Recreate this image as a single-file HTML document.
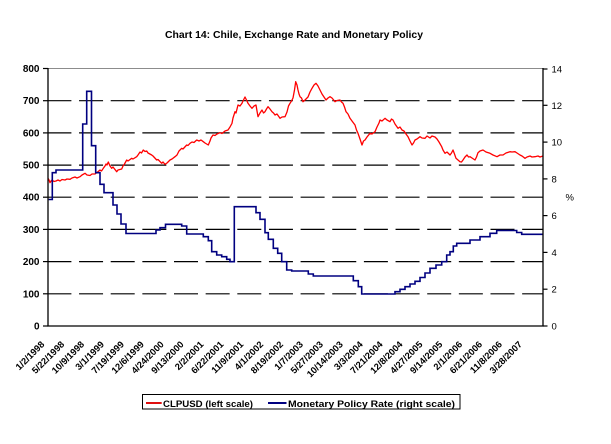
<!DOCTYPE html>
<html>
<head>
<meta charset="utf-8">
<style>
  html, body { margin:0; padding:0; background:#ffffff; }
  body { width:611px; height:444px; overflow:hidden; }
  svg { display:block; }
  text { font-family: "Liberation Sans", Arial, sans-serif; fill:#000; }
</style>
</head>
<body>
<svg width="611" height="444" viewBox="0 0 611 444" xmlns="http://www.w3.org/2000/svg">
  <rect x="0" y="0" width="611" height="444" fill="#ffffff"/>

  <!-- Title -->
  <text x="165" y="38" font-size="10" font-weight="bold" textLength="258" lengthAdjust="spacingAndGlyphs">Chart 14: Chile, Exchange Rate and Monetary Policy</text>

  <!-- top border -->
  <line x1="48" y1="68.5" x2="543" y2="68.5" stroke="#8c8c8c" stroke-width="1"/>

  <!-- dashed gridlines -->
  <g stroke="#000" stroke-width="1.2" stroke-dasharray="24 7.65" stroke-dashoffset="0.6">
    <line x1="48" y1="100.7" x2="543" y2="100.7"/>
    <line x1="48" y1="132.9" x2="543" y2="132.9"/>
    <line x1="48" y1="165.1" x2="543" y2="165.1"/>
    <line x1="48" y1="197.2" x2="543" y2="197.2"/>
    <line x1="48" y1="229.4" x2="543" y2="229.4"/>
    <line x1="48" y1="261.6" x2="543" y2="261.6"/>
    <line x1="48" y1="293.8" x2="543" y2="293.8"/>
  </g>

  <!-- Series: CLPUSD (red) -->
  <polyline fill="none" stroke="#ff0000" stroke-width="1.3" stroke-linejoin="round" points="
    48,178.3 49,180 50,182.7 51,181 52,180 54,181.5 56,181 58,180 60,181 62,179.5 65,180 67,179 70,179.3 72,178 75,177 77,178 80,176.7 82,175 85,173.3 87,175 90,175.5 92,174 95,174 97,172.5 100,170 101.5,171 103.3,168.3 105,166 106,164 107,165 108.3,162 110,166 111.7,168.3 113,167 116.7,171.7 118,170 121.7,169 123,166 124.5,164 126.7,160 128,161 131.7,158.3 133,159 136.7,156.7 138,155 140,152 141.5,153 143.3,150 145,151.5 146.7,151 148,153 151.7,155 153,156 156.7,160 158,159.5 161.7,163.3 163,162 165,164.3 167,163 170,160 172,159 175,156.7 177,155 179,151 181.7,148.3 183,149 186.7,145 188,145.5 190,143.3 192,142 194,142.5 196.7,140 199,141 201,140 203.3,141.7 205,143 208.3,145 210,141 211,138 213,135 215,135.5 217,134 220,132.7 222,133.5 225,131 228,130 230,127 232,123.3 233,118 235,111.7 236,113 238,105 240,106 242,103.3 243,101 245,97 246.5,100 248,103.3 250,106 252,108.3 254,106 256,105 257,111 258,116.7 260,113 262,110 263.5,113 265,111.7 266.5,109 268,106.7 270,109 272,111.7 273.5,113 275,115 277,114 280,118.3 282,117 285,116.7 287,112 288.5,106 290,103.3 291.5,101 293,98 294.5,90 295.7,81.7 297,85 298,90 299,94 300,96.7 301.5,98 303,101.7 305,100 308,97 310,92 312,88.3 314,85 316,83.3 318,86 320,90 322,94 324,97 326,100 328,98 330,96.7 332,98 335,101.7 337,100.5 340,100 341.5,102 343,103.3 344.5,107 346,111.7 348,114 350,118.3 352,121 355,125 356.5,130 358,133.3 360,139 362,145 363.5,141 365,140 367,137 370,133.3 372,134 375,131.7 377,127 379,123 380,120 382,121 385,118.3 387,120 390,121.7 391.5,119 393,120 395,124 398,128.3 400,127 402,130 404,131 406,134 408,136.7 410,141 412,145 413.5,143 415,140 417,139 420,136.7 422,138 425,138.3 427,136 430,138 432,136 435,137 437,139 439,142 441.7,146.7 443,150 445,153.3 447,152 450,155 451.5,153 453,150 454.5,154 456,158.3 458,160 460,161.7 461.5,162 463,160 465,157 467,155 468.5,157 470,156.7 472,158 475,160 476.5,157 478,152.7 480,151 483,150 486,152 490,153.3 493,155 497,156.7 500,155 503,155 506,153 510,151.7 512,152 515,151.7 517,153 520,155 522,156 525,158.3 527,157 530,156 532,157 535,156.7 538,156 540,157 543,156"/>

  <!-- Series: Monetary Policy Rate (navy) -->
  <polyline fill="none" stroke="#000080" stroke-width="1.6" stroke-linejoin="miter" points="
    48.6,199.5 52.3,199.5 52.3,172.7 56,172.7 56,170 82.7,170 82.7,124 86.7,124 86.7,91.3 91.5,91.3 91.5,145.7 95.7,145.7 95.7,172.7 100,172.7 100,184.3 104,184.3 104,192.7 113,192.7 113,205 117,205 117,214 121,214 121,224 126,224 126,233.5 156,233.5 156,230 160,230 160,227.7 165.5,227.7 165.5,224.3 181.7,224.3 181.7,226 186.7,226 186.7,234 203.3,234 203.3,236.7 208.3,236.7 208.3,240.7 211.7,240.7 211.7,251.7 216.7,251.7 216.7,255 221.7,255 221.7,256.7 226.7,256.7 226.7,259.3 230,259.3 230,261.7 234.3,261.7 234.3,206.7 256,206.7 256,212.7 260,212.7 260,219.3 265,219.3 265,232.7 268.3,232.7 268.3,239.3 273.3,239.3 273.3,248.3 277.7,248.3 277.7,253.3 281.7,253.3 281.7,261.7 286.7,261.7 286.7,270 291.7,270 291.7,271 308.3,271 308.3,274 313.3,274 313.3,276 353.3,276 353.3,280.7 358.3,280.7 358.3,286.7 361.7,286.7 361.7,294 395,294 395,291.7 400,291.7 400,289.3 405,289.3 405,286.7 410,286.7 410,284 415,284 415,281.3 420,281.3 420,277.5 425,277.5 425,273 430,273 430,268.3 436,268.3 436,265 441.7,265 441.7,261.7 446.7,261.7 446.7,255 450,255 450,251.7 453.3,251.7 453.3,246 456.7,246 456.7,243.3 470,243.3 470,240 480,240 480,236.7 490,236.7 490,233.3 496.7,233.3 496.7,230.5 516.7,230.5 516.7,232.5 521.7,232.5 521.7,234.3 543,234.3"/>

  <!-- Axes -->
  <g stroke="#000" stroke-width="1.3">
    <line x1="48" y1="68" x2="48" y2="326.5"/>
    <line x1="543" y1="68" x2="543" y2="326.5"/>
    <line x1="47.4" y1="326" x2="543.6" y2="326"/>
  </g>
  <!-- Left ticks -->
  <g stroke="#000" stroke-width="1.2">
    <line x1="43" y1="68.5" x2="48" y2="68.5"/>
    <line x1="43" y1="100.7" x2="48" y2="100.7"/>
    <line x1="43" y1="132.9" x2="48" y2="132.9"/>
    <line x1="43" y1="165.1" x2="48" y2="165.1"/>
    <line x1="43" y1="197.2" x2="48" y2="197.2"/>
    <line x1="43" y1="229.4" x2="48" y2="229.4"/>
    <line x1="43" y1="261.6" x2="48" y2="261.6"/>
    <line x1="43" y1="293.8" x2="48" y2="293.8"/>
    <line x1="43" y1="326" x2="48" y2="326"/>
    <!-- Right ticks -->
    <line x1="543" y1="69" x2="547.5" y2="69"/>
    <line x1="543" y1="105.3" x2="547.5" y2="105.3"/>
    <line x1="543" y1="142.1" x2="547.5" y2="142.1"/>
    <line x1="543" y1="178.9" x2="547.5" y2="178.9"/>
    <line x1="543" y1="215.6" x2="547.5" y2="215.6"/>
    <line x1="543" y1="252.4" x2="547.5" y2="252.4"/>
    <line x1="543" y1="289.2" x2="547.5" y2="289.2"/>
    <line x1="543" y1="326" x2="547.5" y2="326"/>
  </g>

  <!-- Left labels -->
  <g font-size="10" font-weight="bold" text-anchor="end">
    <text x="39.5" y="72">800</text>
    <text x="39.5" y="104.2">700</text>
    <text x="39.5" y="136.4">600</text>
    <text x="39.5" y="168.6">500</text>
    <text x="39.5" y="200.7">400</text>
    <text x="39.5" y="232.9">300</text>
    <text x="39.5" y="265.1">200</text>
    <text x="39.5" y="297.3">100</text>
    <text x="39.5" y="329.5">0</text>
  </g>

  <!-- Right labels -->
  <g font-size="9.5">
    <text x="551.5" y="72.5">14</text>
    <text x="551.5" y="108.8">12</text>
    <text x="551.5" y="145.6">10</text>
    <text x="551.5" y="182.4">8</text>
    <text x="551.5" y="219.1">6</text>
    <text x="551.5" y="255.9">4</text>
    <text x="551.5" y="292.7">2</text>
    <text x="551.5" y="329.5">0</text>
  </g>
  <text x="565.5" y="200.5" font-size="9.5">%</text>

  <!-- X labels -->
  <g font-size="9.3" font-weight="bold" text-anchor="end">
    <text transform="translate(45,345) rotate(-45)">1/2/1998</text>
    <text transform="translate(64.9,345) rotate(-45)">5/22/1998</text>
    <text transform="translate(84.8,345) rotate(-45)">10/9/1998</text>
    <text transform="translate(104.7,345) rotate(-45)">3/1/1999</text>
    <text transform="translate(124.6,345) rotate(-45)">7/19/1999</text>
    <text transform="translate(144.5,345) rotate(-45)">12/6/1999</text>
    <text transform="translate(164.4,345) rotate(-45)">4/24/2000</text>
    <text transform="translate(184.3,345) rotate(-45)">9/13/2000</text>
    <text transform="translate(204.2,345) rotate(-45)">2/2/2001</text>
    <text transform="translate(224.1,345) rotate(-45)">6/22/2001</text>
    <text transform="translate(244,345) rotate(-45)">11/9/2001</text>
    <text transform="translate(263.9,345) rotate(-45)">4/1/2002</text>
    <text transform="translate(283.8,345) rotate(-45)">8/19/2002</text>
    <text transform="translate(303.7,345) rotate(-45)">1/7/2003</text>
    <text transform="translate(323.6,345) rotate(-45)">5/27/2003</text>
    <text transform="translate(343.5,345) rotate(-45)">10/14/2003</text>
    <text transform="translate(363.4,345) rotate(-45)">3/3/2004</text>
    <text transform="translate(383.3,345) rotate(-45)">7/21/2004</text>
    <text transform="translate(403.2,345) rotate(-45)">12/8/2004</text>
    <text transform="translate(423.1,345) rotate(-45)">4/27/2005</text>
    <text transform="translate(443,345) rotate(-45)">9/14/2005</text>
    <text transform="translate(462.9,345) rotate(-45)">2/1/2006</text>
    <text transform="translate(482.8,345) rotate(-45)">6/21/2006</text>
    <text transform="translate(502.7,345) rotate(-45)">11/8/2006</text>
    <text transform="translate(522.6,345) rotate(-45)">3/28/2007</text>
  </g>

  <!-- Legend -->
  <rect x="142.5" y="394.5" width="317.5" height="14.5" fill="#fff" stroke="#000" stroke-width="1"/>
  <line x1="146" y1="403" x2="161.7" y2="403" stroke="#e01010" stroke-width="2"/>
  <text x="163" y="406.8" font-size="9.5" font-weight="bold" textLength="90" lengthAdjust="spacingAndGlyphs">CLPUSD (left scale)</text>
  <line x1="268" y1="403" x2="286.5" y2="403" stroke="#000080" stroke-width="2"/>
  <text x="288" y="406.8" font-size="9.5" font-weight="bold" textLength="167" lengthAdjust="spacingAndGlyphs">Monetary Policy Rate (right scale)</text>
</svg>
</body>
</html>
